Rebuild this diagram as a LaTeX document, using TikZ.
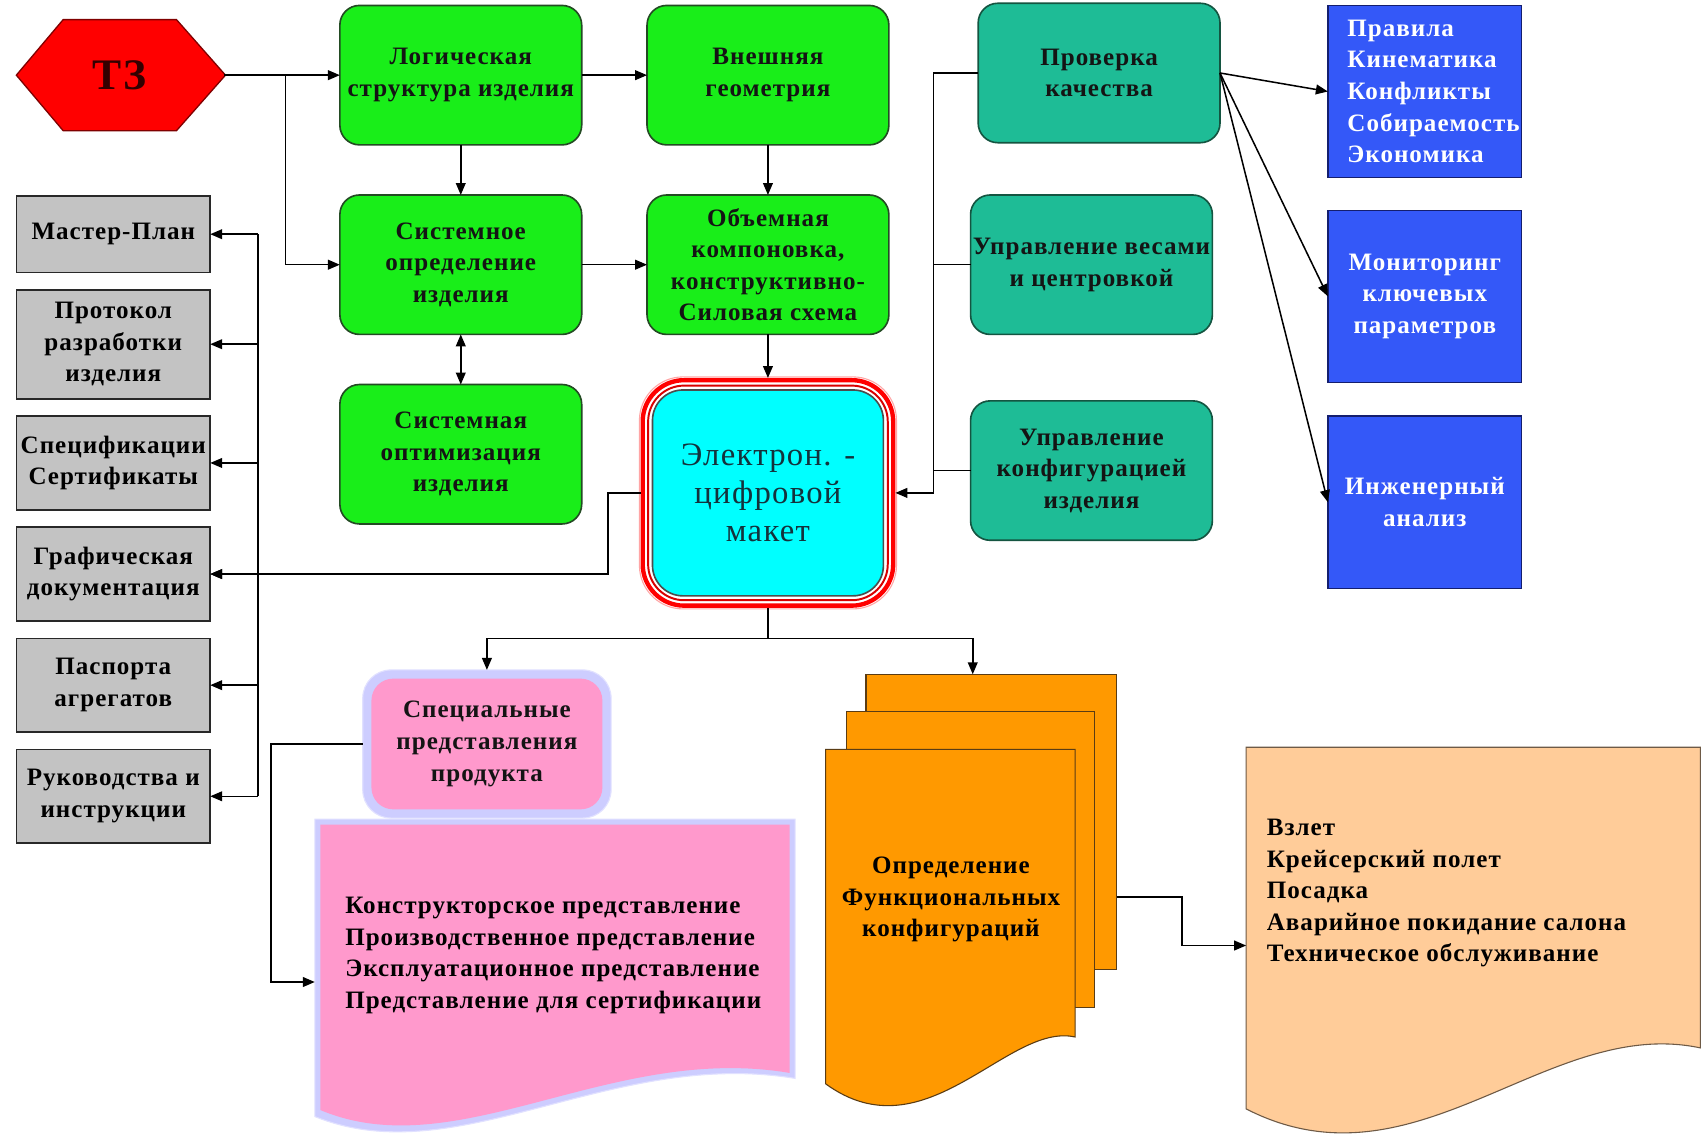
\documentclass[tikz,border=0pt]{standalone}
\usepackage{fontspec}
\setmainfont{Liberation Serif}[LetterSpace=4]
\usetikzlibrary{arrows.meta,calc,backgrounds}
\definecolor{grn}{RGB}{25,238,25}
\definecolor{grnD}{RGB}{35,75,35}
\definecolor{tl}{RGB}{30,188,150}
\definecolor{tlD}{RGB}{20,85,65}
\definecolor{blu}{RGB}{52,88,248}
\definecolor{bluD}{RGB}{20,30,110}
\definecolor{gry}{RGB}{195,195,195}
\definecolor{gryD}{RGB}{40,40,40}
\definecolor{pnk}{RGB}{255,153,204}
\definecolor{lav}{RGB}{205,205,255}
\definecolor{org}{RGB}{255,153,0}
\definecolor{orgD}{RGB}{90,60,20}
\definecolor{pch}{RGB}{255,204,153}
\definecolor{pchD}{RGB}{110,90,70}
\definecolor{cy}{RGB}{0,255,255}
\definecolor{cyT}{RGB}{20,50,60}
\definecolor{txD}{RGB}{20,20,20}
\newcommand\txtfont{\bfseries\fontsize{23}{29}\selectfont}
\newcommand\cyfont{\fontsize{30}{35}\selectfont}
\newcommand\tzfont{\bfseries\fontsize{40}{44}\selectfont}
\begin{document}
\begin{tikzpicture}[x=1pt,y=-1pt,
  every node/.style={inner sep=0pt,outer sep=0pt,align=center,font=\txtfont,text=txD},
  gbox/.style={draw=grnD,line width=1.5pt,fill=grn,rounded corners=18pt,minimum width=222pt,minimum height=128pt},
  tbox/.style={draw=tlD,line width=1.5pt,fill=tl,rounded corners=18pt,minimum width=222pt,minimum height=128pt},
  bbox/.style={draw=bluD,line width=1.2pt,fill=blu,minimum width=178pt,minimum height=158pt,text=white},
  grbox/.style={draw=gryD,line width=1.5pt,fill=gry,minimum width=178pt,text=black},
  odoc/.style={draw=orgD,line width=1pt,fill=org},
  ln/.style={line width=1.4pt,draw=black},
  arr/.style={ln,-{Triangle[length=11pt,width=9pt]}},
  arrb/.style={ln,{Triangle[length=11pt,width=9pt]}-{Triangle[length=11pt,width=9pt]}}
]
\useasboundingbox (0,0) rectangle (1568,1049);
\begin{pgfonlayer}{background}
\fill[white] (0,0) rectangle (1568,1049);
\end{pgfonlayer}

% TZ hexagon
\fill[red,draw=red!50!black,line width=1.2pt] (15,69) -- (58,18) -- (162,18) -- (207,69) -- (162,120) -- (58,120) -- cycle;
\node[minimum width=192pt,minimum height=102pt,font=\tzfont,text=black!80!red] (tz) at (110,69) {ТЗ};

% green boxes
\node[gbox] (log) at (423,69) {Логическая\\структура изделия};
\node[gbox] (geo) at (705,69) {Внешняя\\геометрия};
\node[gbox] (sys) at (423,243) {Системное\\определение\\изделия};
\node[gbox] (vol) at (705,243) {Объемная\\компоновка,\\конструктивно-\\Силовая схема};
\node[gbox] (opt) at (423,417) {Системная\\оптимизация\\изделия};

% teal boxes
\node[tbox] (chk) at (1009,67) {Проверка\\качества};
\node[tbox] (ves) at (1002,243) {Управление весами\\и центровкой};
\node[tbox] (cfg) at (1002,432) {Управление\\конфигурацией\\изделия};

% blue boxes
\node[bbox,align=left,text width=142pt,inner xsep=18pt] (b1) at (1308,84) {Правила\\Кинематика\\Конфликты\\Собираемость\\Экономика};
\node[bbox] (b2) at (1308,272) {Мониторинг\\ключевых\\параметров};
\node[bbox] (b3) at (1308,461) {Инженерный\\анализ};

% gray boxes
\node[grbox,minimum height=70pt] (g1) at (104,215) {Мастер-План};
\node[grbox,minimum height=100pt] (g2) at (104,316) {Протокол\\разработки\\изделия};
\node[grbox,minimum height=86pt] (g3) at (104,425) {Спецификации\\Сертификаты};
\node[grbox,minimum height=86pt] (g4) at (104,527) {Графическая\\документация};
\node[grbox,minimum height=86pt] (g5) at (104,629) {Паспорта\\агрегатов};
\node[grbox,minimum height=86pt] (g6) at (104,731) {Руководства и\\инструкции};

% electronic mockup
\node[minimum width=234pt,minimum height=211pt,font=\cyfont,text=cyT] (emk) at (705,452.5) {Электрон. -\\цифровой\\макет};
\begin{pgfonlayer}{background}
\draw[red!35,line width=1pt,rounded corners=40pt] ([shift={(-1pt,1pt)}]emk.north west) rectangle ([shift={(1pt,-1pt)}]emk.south east);
\draw[red,line width=4pt,fill=white,rounded corners=38pt] ([shift={(2pt,-2pt)}]emk.north west) rectangle ([shift={(-2pt,2pt)}]emk.south east);
\draw[red!85!black,line width=1.8pt,rounded corners=33pt] ([shift={(7pt,-7pt)}]emk.north west) rectangle ([shift={(-7pt,7pt)}]emk.south east);
\draw[gray!60!black,line width=1.5pt,fill=cy,rounded corners=28pt] ([shift={(11pt,-11pt)}]emk.north west) rectangle ([shift={(-11pt,11pt)}]emk.south east);
\end{pgfonlayer}

% special representations
\node[minimum width=228pt,minimum height=136pt] (spec) at (447,683) {Специальные\\представления\\продукта};
\begin{pgfonlayer}{background}
\draw[lav!60,line width=1pt,fill=lav,rounded corners=26pt] (spec.north west) rectangle (spec.south east);
\fill[pnk,rounded corners=20pt] ([shift={(8pt,-8pt)}]spec.north west) rectangle ([shift={(-8pt,8pt)}]spec.south east);
\end{pgfonlayer}

% big pink document
\fill[lav,draw=lav!60,line width=1pt] (289,752) -- (730,752) -- (730,990) .. controls (560,962) and (420,1078) .. (289,1025) -- cycle;
\fill[pnk] (294,757) -- (725,757) -- (725,985) .. controls (560,957) and (420,1072) .. (294,1019) -- cycle;
\node[minimum width=441pt,minimum height=273pt] (bigdoc) at (509.5,888.5) {};
\node[anchor=west,align=left,text=black] (bigtxt) at (317,877) {Конструкторское представление\\Производственное представление\\Эксплуатационное представление\\Представление для сертификации};

% orange stacked documents
\node[odoc,minimum width=230pt,minimum height=271pt] (ob) at (910,754.5) {};
\node[odoc,minimum width=228pt,minimum height=272pt] (om) at (891,789) {};
\filldraw[fill=org,draw=orgD,line width=1pt] (758,688) -- (987,688) -- (987,952) .. controls (925,938) and (850,1062) .. (758,995) -- cycle;
\node[text=black] (of) at (873,826) {Определение\\Функциональных\\конфигураций};

% peach document
\filldraw[fill=pch,draw=pchD,line width=1pt] (1144,686) -- (1561,686) -- (1561,962) .. controls (1420,932) and (1300,1098) .. (1144,1018) -- cycle;
\node[minimum width=417pt,minimum height=332pt] (peach) at (1352.5,852) {};
\node[anchor=west,align=left,text=black] (ptxt) at (1163,820) {Взлет\\Крейсерский полет\\Посадка\\Аварийное покидание салона\\Техническое обслуживание};

% connectors: top flow
\coordinate (j1) at (262,69);
\draw[arr] (tz.east) -- (log.west);
\draw[arr] (j1) |- (sys.west);
\draw[arr] (log.east) -- (geo.west);
\draw[arr] (log.south) -- (sys.north);
\draw[arr] (geo.south) -- (vol.north);
\draw[arr] (sys.east) -- (vol.west);
\draw[arrb] (sys.south) -- (opt.north);
\draw[arr] (vol.south) -- (emk.north);

% teal bus
\coordinate (tb) at (857,0);
\draw[ln] (chk.west) -| (tb |- emk.east);
\draw[ln] (ves.west) -- (ves.west -| tb);
\draw[ln] (cfg.west) -- (cfg.west -| tb);
\draw[arr] (tb |- emk.east) -- (emk.east);

% quality fan
\draw[arr] (chk.east) -- (b1.west);
\draw[arr] (chk.east) -- (b2.west);
\draw[arr] (chk.east) -- (b3.west);

% left bus
\coordinate (lb) at (237,0);
\draw[arr] (emk.west) -- ++(-30pt,0pt) |- (g4.east);
\draw[ln] (lb |- g1.east) -- (lb |- g6.east);
\foreach \n in {g1,g2,g3,g4,g5,g6} \draw[arr] (lb |- \n.east) -- (\n.east);

% bottom split
\draw[ln] (emk.south) -- ++(0pt,-28pt) coordinate (sp);
\draw[arr] (sp) -| (spec.north);
\draw[arr] (sp) -| ([xshift=-17pt]ob.north);
\draw[arr] (spec.west) -- ++(-84pt,0pt) |- ([yshift=-13pt]bigdoc.west);
\draw[arr] ([yshift=-69pt]ob.east) -- ++(60pt,0pt) |- ([yshift=-16pt]peach.west);
\end{tikzpicture}
\end{document}
